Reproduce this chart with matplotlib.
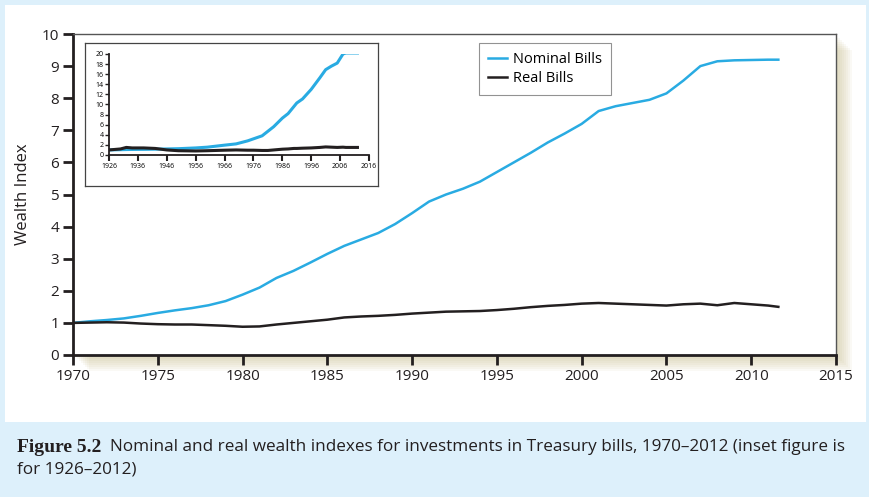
import matplotlib
matplotlib.use("Agg")
import matplotlib.pyplot as plt
from matplotlib.patches import Rectangle
import numpy as np

plt.rcParams["font.family"] = ["Open Sans", "DejaVu Sans"]

# main chart, 1970-2012 (index 1970 = 1)
years = [1970, 1971, 1972, 1973, 1974, 1975, 1976, 1977, 1978, 1979, 1980,
         1981, 1982, 1983, 1984, 1985, 1986, 1987, 1988, 1989, 1990, 1991,
         1992, 1993, 1994, 1995, 1996, 1997, 1998, 1999, 2000, 2001, 2002,
         2003, 2004, 2005, 2006, 2007, 2008, 2009, 2010, 2011, 2011.6]
nominal = [1.00, 1.05, 1.09, 1.14, 1.22, 1.31, 1.39, 1.46, 1.55, 1.68, 1.88,
           2.10, 2.40, 2.62, 2.88, 3.15, 3.40, 3.60, 3.80, 4.08, 4.42, 4.78,
           5.00, 5.18, 5.40, 5.70, 6.00, 6.30, 6.62, 6.90, 7.20, 7.60, 7.75,
           7.85, 7.95, 8.15, 8.55, 9.00, 9.15, 9.18, 9.19, 9.20, 9.20]
real = [1.00, 1.01, 1.02, 1.01, 0.98, 0.96, 0.95, 0.95, 0.93, 0.91, 0.88,
        0.89, 0.95, 1.00, 1.05, 1.10, 1.17, 1.20, 1.22, 1.25, 1.29, 1.32,
        1.35, 1.36, 1.37, 1.40, 1.44, 1.49, 1.53, 1.56, 1.60, 1.62, 1.60,
        1.58, 1.56, 1.54, 1.58, 1.60, 1.55, 1.62, 1.58, 1.54, 1.50]

# inset, 1926-2012
inset_years = [1926, 1930, 1932, 1934, 1938, 1942, 1946, 1950, 1956, 1960,
               1966, 1970, 1974, 1976, 1979, 1981, 1983, 1986, 1988, 1990,
               1991, 1993, 1996, 1999, 2001, 2003, 2005, 2007, 2008, 2012]
inset_nominal = [1.0, 1.05, 1.08, 1.1, 1.12, 1.15, 1.2, 1.25, 1.4, 1.55,
                 1.95, 2.2, 2.8, 3.2, 3.8, 4.7, 5.6, 7.3, 8.2, 9.6,
                 10.3, 11.1, 13.0, 15.3, 16.9, 17.6, 18.2, 20.0, 20.2, 20.2]
inset_real = [1.0, 1.2, 1.5, 1.4, 1.4, 1.3, 1.0, 0.85, 0.8, 0.85,
              0.95, 1.0, 0.95, 0.95, 0.9, 0.9, 1.0, 1.15, 1.2, 1.3,
              1.3, 1.35, 1.4, 1.5, 1.6, 1.55, 1.5, 1.55, 1.5, 1.5]

BLUE = "#29ABE2"
DARK = "#231F20"
BG = "#DDF0FB"

W, H = 869, 497
fig = plt.figure(figsize=(W / 100, H / 100), dpi=100, facecolor=BG)


def fbox(x0, y0, x1, y1):
    # pixel box (top-left origin) -> figure fraction
    return [x0 / W, 1 - y1 / H, (x1 - x0) / W, (y1 - y0) / H]


# white panel
fig.patches.append(Rectangle((5 / W, 1 - 422 / H), 861 / W, 417 / H,
                             transform=fig.transFigure, facecolor="white",
                             edgecolor="none", zorder=-20))
# soft shadow right/below plot
for i in range(8):
    off = (i + 1) * 2
    fig.patches.append(Rectangle((73 / W + off / W, 1 - (355 + off) / H),
                                 763 / W, 321 / H, transform=fig.transFigure,
                                 facecolor="#C2B682", alpha=0.08,
                                 edgecolor="none", zorder=-10))

ax = fig.add_axes(fbox(73, 34, 836, 355))
ax.set_facecolor("white")
ax.plot(years, nominal, color=BLUE, lw=1.8, label="Nominal Bills")
ax.plot(years, real, color=DARK, lw=1.8, label="Real Bills")
ax.set_xlim(1970, 2015)
ax.set_ylim(0, 10)
ax.set_xticks(range(1970, 2016, 5))
ax.set_yticks(range(0, 11))
ax.tick_params(direction="out", length=7, width=2, color=DARK,
               labelsize=11, labelcolor=DARK, pad=3)
for s in ["left", "bottom"]:
    ax.spines[s].set_linewidth(2)
    ax.spines[s].set_color(DARK)
for s in ["top", "right"]:
    ax.spines[s].set_linewidth(1)
    ax.spines[s].set_color("#555555")
ax.set_ylabel("Wealth Index", fontsize=12, color=DARK, labelpad=8)
leg = ax.legend(loc="upper left", bbox_to_anchor=(0.532, 0.972), fontsize=10.5,
                frameon=True, fancybox=False, handlelength=1.3,
                handletextpad=0.45, borderpad=0.6, labelspacing=0.3,
                borderaxespad=0)
leg.get_frame().set_edgecolor("#777777")
leg.get_frame().set_linewidth(0.8)

# inset frame
frame = fig.add_axes(fbox(85, 43, 378, 186))
frame.set_xticks([])
frame.set_yticks([])
for s in frame.spines.values():
    s.set_linewidth(0.9)
    s.set_color("#444444")

ins = fig.add_axes(fbox(109, 54, 369, 155))
ins.patch.set_alpha(0)
ins.plot(inset_years, inset_nominal, color=BLUE, lw=2.2)
ins.plot(inset_years, inset_real, color=DARK, lw=2.2)
ins.set_xlim(1926, 2016)
ins.set_ylim(0, 20)
ins.set_xticks(range(1926, 2017, 10))
ins.set_yticks(range(0, 21, 2))
ins.tick_params(axis="x", direction="out", length=4, width=1.5, color=DARK,
                labelsize=5, pad=2)
ins.tick_params(axis="y", direction="out", length=3, width=1, color=DARK,
                labelsize=5, pad=1)
for s in ["top", "right"]:
    ins.spines[s].set_visible(False)
for s in ["left", "bottom"]:
    ins.spines[s].set_linewidth(1.3)
    ins.spines[s].set_color(DARK)

# caption
fig.text(17 / W, 1 - 447 / H, "Figure 5.2", fontsize=14,
         fontweight="bold", family=["Liberation Serif", "DejaVu Serif"],
         color=DARK, va="center")
fig.text(110 / W, 1 - 447 / H,
         "Nominal and real wealth indexes for investments in Treasury bills, "
         "1970\u20132012 (inset figure is", fontsize=12.3, color=DARK,
         va="center")
fig.text(17 / W, 1 - 470 / H, "for 1926\u20132012)", fontsize=12.3,
         color=DARK, va="center")

fig.savefig("out.png", dpi=100, facecolor=BG)
